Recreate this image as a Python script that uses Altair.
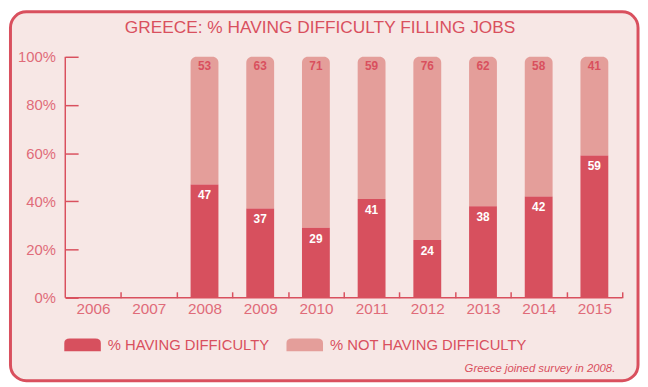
import altair as alt
import pandas as pd

years = ["2006", "2007", "2008", "2009", "2010", "2011", "2012", "2013", "2014", "2015"]
having = [None, None, 47, 37, 29, 41, 24, 38, 42, 59]
not_having = [None, None, 53, 63, 71, 59, 76, 62, 58, 41]
series = ["% HAVING DIFFICULTY", "% NOT HAVING DIFFICULTY"]
y_ticks = [0, 20, 40, 60, 80, 100]
title_text = "GREECE: % HAVING DIFFICULTY FILLING JOBS"
note_text = "Greece joined survey in 2008."

DARK = "#d7505e"
LIGHT = "#e49e9a"
BG = "#f7e7e5"
AXIS = "#d9505e"
LABEL = "#e06b79"
FONT = "Liberation Sans"

rows = []
for y, h, n in zip(years, having, not_having):
    if h is None:
        continue
    rows.append({"year": y, "series": series[0], "start": 0, "end": h, "value": h})
    rows.append({"year": y, "series": series[1], "start": h, "end": h + n, "value": n})
df = pd.DataFrame(rows)

W, H = 564, 244
HALF_STEP = W / len(years) / 2

xenc = alt.X("year:N", scale=alt.Scale(domain=years, paddingInner=0.5, paddingOuter=0.25),
             axis=alt.Axis(title=None, labelAngle=0, offset=-6, tickSize=6, domain=False,
                           tickOffset=HALF_STEP, labelOffset=-HALF_STEP,
                           tickColor=AXIS, tickWidth=1.5, zindex=2,
                           labelFontSize=15.5, labelColor=LABEL, labelFont=FONT, labelPadding=4))
yenc = alt.Y("start:Q", scale=alt.Scale(domain=[0, 100]),
             axis=alt.Axis(title=None, values=y_ticks, labelExpr="datum.value + '%'",
                           offset=-13, tickSize=13, domain=False, grid=False, zindex=2,
                           tickColor=AXIS, tickWidth=1.5, labelFontSize=15,
                           labelColor=LABEL, labelFont=FONT, labelPadding=10))
color = alt.Color("series:N", scale=alt.Scale(domain=series, range=[DARK, LIGHT]),
                  legend=alt.Legend(title=None, orient="none", legendX=-1, legendY=273,
                                    direction="horizontal", padding=0, zindex=2,
                                    symbolType="M-1,0.35 L-1,-0.1 Q-1,-0.35 -0.7,-0.35 L0.7,-0.35 Q1,-0.35 1,-0.1 L1,0.35 Z",
                                    symbolSize=1369, symbolStrokeWidth=0, symbolOpacity=1,
                                    labelFontSize=15, labelColor=AXIS, labelFont=FONT,
                                    labelOffset=7, columnPadding=17, labelLimit=300))

base = alt.Chart(df)

frame = alt.Chart(pd.DataFrame({"a": [0]})).mark_rect(
    fill=BG, stroke=AXIS, strokeWidth=3, cornerRadius=16
).encode(x=alt.value(-55.5), x2=alt.value(580), y=alt.value(-45.5), y2=alt.value(328))

dark = base.transform_filter(alt.datum.series == series[0]).mark_bar().encode(
    x=xenc, y=yenc, y2="end:Q", color=color)
light = base.transform_filter(alt.datum.series == series[1]).mark_bar(
    cornerRadiusTopLeft=6, cornerRadiusTopRight=6).encode(
    x=xenc, y=yenc, y2="end:Q", color=color)

dark_lbl = base.transform_filter(alt.datum.series == series[0]).mark_text(
    color="white", fontWeight="bold", fontSize=12, font=FONT, dy=11, baseline="middle"
).encode(x="year:N", y=alt.Y("end:Q"), text="value:Q")
light_lbl = base.transform_filter(alt.datum.series == series[1]).mark_text(
    color=AXIS, fontWeight="bold", fontSize=12, font=FONT, dy=9, baseline="middle"
).encode(x="year:N", y=alt.Y("end:Q"), text="value:Q")

xline = alt.Chart(pd.DataFrame({"a": [0]})).mark_rule(color=AXIS, strokeWidth=1.5).encode(
    x=alt.value(0), x2=alt.value(W), y=alt.value(H))
yline = alt.Chart(pd.DataFrame({"a": [0]})).mark_rule(color=AXIS, strokeWidth=1.5).encode(
    x=alt.value(0), y=alt.value(0), y2=alt.value(H))

title = alt.Chart(pd.DataFrame({"t": [title_text]})).mark_text(
    color=AXIS, fontSize=17.5, font=FONT, align="center", baseline="middle"
).encode(x=alt.value(258), y=alt.value(-29), text="t:N")
note = alt.Chart(pd.DataFrame({"t": [note_text]})).mark_text(
    color=AXIS, fontSize=11.5, font=FONT, fontStyle="italic", align="right", baseline="middle"
).encode(x=alt.value(557), y=alt.value(316), text="t:N")

chart = alt.layer(frame, light, dark, dark_lbl, light_lbl, xline, yline, title, note).properties(
    width=W, height=H,
    autosize=alt.AutoSizeParams(type="none"),
    padding={"left": 58, "top": 47, "right": 18, "bottom": 88},
    background="white",
).configure_view(stroke=None)

chart.save("out.html", embed_options={"renderer": "svg", "actions": False})
